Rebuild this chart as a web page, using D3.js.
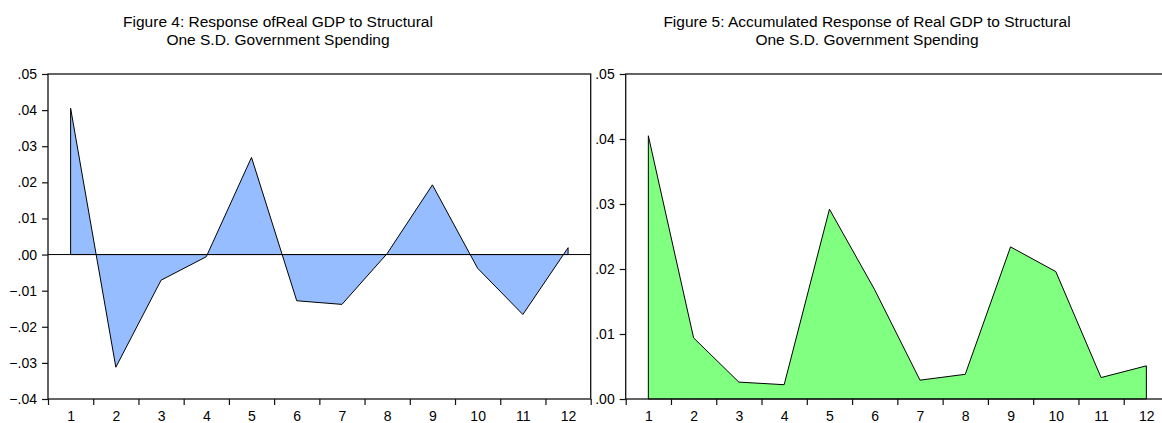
<!DOCTYPE html>
<html>
<head>
<meta charset="utf-8">
<script src="https://cdn.jsdelivr.net/npm/d3@7"></script>
<style>
  body { margin: 0; background: #fff; }
  svg { display: block; }
  text { font-family: "Liberation Sans", Arial, sans-serif; fill: #000; }
</style>
</head>
<body>
<div id="app"></div>
<script>
// periods after the shock
const periods = [1, 2, 3, 4, 5, 6, 7, 8, 9, 10, 11, 12];

// Figure 4: response of real GDP
const responseGDP = [0.0405, -0.0312, -0.0071, -0.0006, 0.0269, -0.0128, -0.0138, 0.0003, 0.0193, -0.0038, -0.0166, 0.0019];

// Figure 5: accumulated response of real GDP
const accumulatedGDP = [0.0405, 0.0094, 0.0026, 0.0022, 0.0292, 0.0168, 0.0029, 0.0038, 0.0234, 0.0196, 0.0033, 0.0051];

const leftTicks = [-0.04, -0.03, -0.02, -0.01, 0, 0.01, 0.02, 0.03, 0.04, 0.05];
const rightTicks = [0, 0.01, 0.02, 0.03, 0.04, 0.05];

const title4 = ['Figure 4: Response ofReal GDP to Structural', 'One S.D. Government Spending'];
const title5 = ['Figure 5: Accumulated Response of Real GDP to Structural', 'One S.D. Government Spending'];

const W = 1162, H = 423;

const svg = d3.select('#app')
  .append('svg')
  .attr('width', W)
  .attr('height', H);

const fmt = v => d3.format('.2f')(v).replace('0.', '.');

function drawPanel(opt) {
  const g = svg.append('g');

  const x = d3.scaleLinear().domain([0.5, 12.5]).range([opt.left, opt.right]);
  const y = d3.scaleLinear().domain(opt.yDomain).range([399, 74]);

  const area = d3.area()
    .x((d, i) => x(periods[i]))
    .y0(y(0))
    .y1(d => y(d));

  g.append('path')
    .datum(opt.values)
    .attr('d', area)
    .attr('fill', opt.fill)
    .attr('stroke', '#000')
    .attr('stroke-width', 1)
    .attr('stroke-linejoin', 'miter');

  if (opt.zeroLine) {
    g.append('line')
      .attr('x1', opt.left).attr('x2', opt.right)
      .attr('y1', y(0)).attr('y2', y(0))
      .attr('stroke', '#000')
      .attr('stroke-width', 1);
  }

  // frame
  g.append('rect')
    .attr('x', opt.left).attr('y', 74)
    .attr('width', opt.right - opt.left).attr('height', 399 - 74)
    .attr('fill', 'none')
    .attr('stroke', '#111')
    .attr('stroke-width', 1.3);

  // y axis
  const yAxis = g.append('g')
    .attr('transform', `translate(${opt.left},0)`)
    .call(d3.axisLeft(y).tickValues(opt.yTicks).tickFormat(fmt).tickSize(6).tickPadding(5));
  yAxis.select('.domain').remove();
  yAxis.selectAll('line').attr('stroke', '#111').attr('stroke-width', 1.2);
  yAxis.selectAll('text').style('font-size', '14px').attr('fill', '#000');

  // x axis: ticks at period boundaries
  const bounds = d3.range(0.5, 13, 1);
  const xTicks = g.append('g')
    .attr('transform', 'translate(0,399)')
    .call(d3.axisBottom(x).tickValues(bounds).tickFormat('').tickSize(6));
  xTicks.select('.domain').remove();
  xTicks.selectAll('line').attr('stroke', '#111').attr('stroke-width', 1.2);

  // x labels at period centres
  const xLabels = g.append('g')
    .attr('transform', 'translate(0,399)')
    .call(d3.axisBottom(x).tickValues(periods).tickFormat(d3.format('d')).tickSize(0).tickPadding(12));
  xLabels.select('.domain').remove();
  xLabels.selectAll('text').style('font-size', '14px').attr('fill', '#000');

  // title
  g.append('text')
    .attr('x', opt.titleX)
    .attr('text-anchor', 'middle')
    .style('font-size', '15.5px')
    .selectAll('tspan')
    .data(opt.title)
    .enter()
    .append('tspan')
    .attr('x', opt.titleX)
    .attr('y', (d, i) => 27 + i * 17.5)
    .text(d => d);
}

drawPanel({
  left: 48, right: 590.7,
  yDomain: [-0.04, 0.05], yTicks: leftTicks,
  values: responseGDP, fill: '#96bdff', zeroLine: true,
  title: title4, titleX: 278
});

drawPanel({
  left: 625.7, right: 1169,
  yDomain: [0, 0.05], yTicks: rightTicks,
  values: accumulatedGDP, fill: '#80ff80', zeroLine: false,
  title: title5, titleX: 867
});
</script>
</body>
</html>
